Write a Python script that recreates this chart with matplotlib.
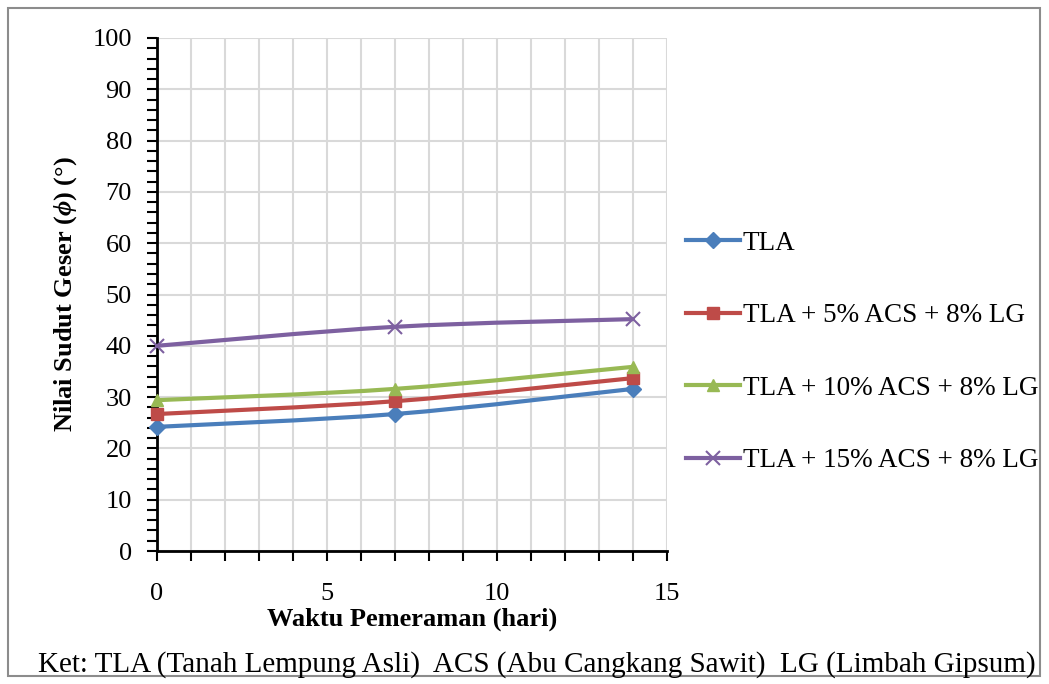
import numpy as np
import matplotlib.pyplot as plt
from matplotlib.path import Path
from matplotlib.patches import PathPatch, Rectangle
from matplotlib.ticker import MultipleLocator

plt.rcParams['font.family'] = ['Liberation Serif', 'DejaVu Serif']
plt.rcParams['mathtext.fontset'] = 'custom'
plt.rcParams['mathtext.it'] = 'Liberation Serif:italic:bold'

hari = [0, 7, 14]
tla = [24.2, 26.7, 31.6]
tla_5 = [26.7, 29.2, 33.7]
tla_10 = [29.4, 31.6, 35.9]
tla_15 = [40.0, 43.7, 45.2]

labels = ["TLA", "TLA + 5% ACS + 8% LG", "TLA + 10% ACS + 8% LG", "TLA + 15% ACS + 8% LG"]
colors = ["#4a7ebb", "#be4b48", "#98b954", "#7d60a0"]
markers = ["D", "s", "^", "x"]


def smooth_path(x, y):
    # Excel-style smoothed line (Catmull-Rom as cubic Bezier)
    pts = np.column_stack([x, y]).astype(float)
    verts = [pts[0]]
    codes = [Path.MOVETO]
    n = len(pts)
    for i in range(n - 1):
        p0 = pts[i - 1] if i > 0 else pts[i]
        p1 = pts[i]
        p2 = pts[i + 1]
        p3 = pts[i + 2] if i + 2 < n else pts[i + 1]
        c1 = p1 + (p2 - p0) / 6
        c2 = p2 - (p3 - p1) / 6
        verts += [c1, c2, p2]
        codes += [Path.CURVE4] * 3
    return Path(verts, codes)


fig = plt.figure(figsize=(10.49, 6.84), dpi=100)
fig.patches.append(Rectangle((8 / 1049, 8 / 684), 1032 / 1049, 668 / 684,
                             transform=fig.transFigure, fill=False,
                             edgecolor="#8c8c8c", linewidth=1.5))

ax = fig.add_axes([157 / 1049, 1 - 551 / 684, 510 / 1049, 513 / 684])

series = [tla, tla_5, tla_10, tla_15]
for vals, lab, c, m in zip(series, labels, colors, markers):
    ms = 10 if m == "x" else (9 if m != "D" else 8)
    mew = 1.5 if m == "x" else 1
    ax.add_patch(PathPatch(smooth_path(hari, vals), fill=False, edgecolor=c,
                           linewidth=3, zorder=3))
    ax.plot(hari, vals, linestyle="none", marker=m, color=c, markersize=ms,
            markeredgewidth=mew, zorder=4, clip_on=False)
    ax.plot([], [], color=c, linewidth=3, marker=m, markersize=ms,
            markeredgewidth=mew, label=lab)

ax.set_xlim(0, 15)
ax.set_ylim(0, 100)
ax.xaxis.set_major_locator(MultipleLocator(5))
ax.xaxis.set_minor_locator(MultipleLocator(1))
ax.yaxis.set_major_locator(MultipleLocator(10))
ax.yaxis.set_minor_locator(MultipleLocator(2))
ax.grid(which="major", axis="y", color="#d9d9d9", linewidth=1.5)
ax.grid(which="minor", axis="x", color="#d9d9d9", linewidth=1.5)
ax.grid(which="major", axis="x", color="#d9d9d9", linewidth=1.5)
ax.set_axisbelow(True)
for s in ["top", "right"]:
    ax.spines[s].set_visible(False)
for s in ["left", "bottom"]:
    ax.spines[s].set_linewidth(2)
ax.tick_params(which="major", direction="out", length=7, width=1.5, labelsize=19)
ax.tick_params(which="minor", direction="out", length=7, width=1.5)
ax.tick_params(axis="y", pad=11)
ax.tick_params(axis="x", pad=16)

ax.set_xlabel("Waktu Pemeraman (hari)", fontsize=19, fontweight="bold", labelpad=2)
ax.set_ylabel(r"Nilai Sudut Geser ($\phi$) (°)", fontsize=19, fontweight="bold", labelpad=10)

handles, labs = ax.get_legend_handles_labels()
fig.legend(handles, labs, loc="center left", bbox_to_anchor=(686 / 1049, 1 - 352 / 684),
           frameon=False, fontsize=19.5, handlelength=2.0, handletextpad=0.1,
           labelspacing=1.75, borderpad=0, borderaxespad=0)

fig.text(537 / 1049, 1 - 665 / 684,
         "Ket: TLA (Tanah Lempung Asli)  ACS (Abu Cangkang Sawit)  LG (Limbah Gipsum)",
         ha="center", va="center", fontsize=21)

fig.savefig("out.png", dpi=100)
